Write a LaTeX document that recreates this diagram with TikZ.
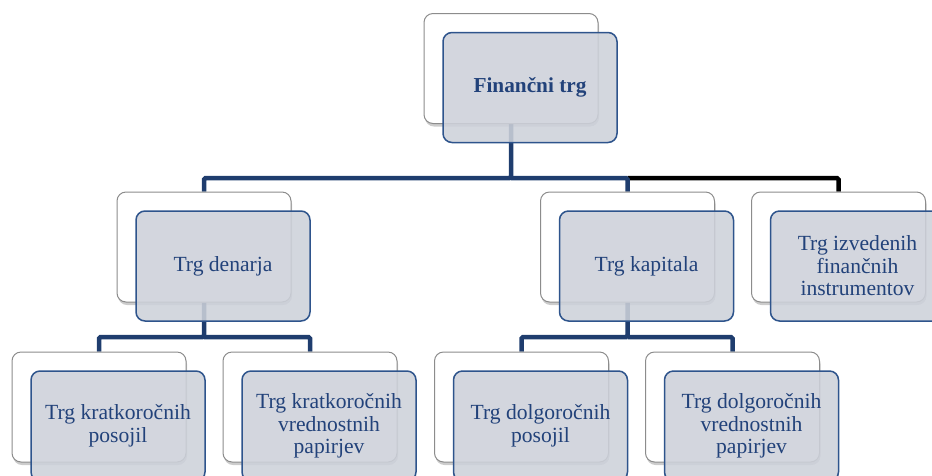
\documentclass[tikz,border=0pt]{standalone}
\usepackage{fontspec}
\setmainfont{Liberation Serif}
\newfontfamily\tnrfont{Liberation Serif}
\usetikzlibrary{shadows}
\definecolor{navy}{RGB}{31,61,110}
\definecolor{fborder}{RGB}{46,84,140}
\definecolor{ftext}{RGB}{34,66,122}
\definecolor{ffill}{RGB}{205,209,218}
\definecolor{bborder}{RGB}{140,140,140}
\pgfdeclarelayer{bg}
\pgfsetlayers{bg,main}
\begin{document}
\begin{tikzpicture}[x=1pt,y=-1pt,
  backbox/.style={draw=bborder, line width=1pt, fill=white, rounded corners=9pt,
    minimum width=174pt, minimum height=110pt, inner sep=0pt,
    drop shadow={shadow xshift=1pt, shadow yshift=-3pt, opacity=0.2, fill=black}},
  frontbox/.style={draw=fborder, line width=1.5pt, fill=ffill, fill opacity=0.88,
    text opacity=1, rounded corners=9pt, minimum width=174pt, minimum height=110pt,
    inner sep=0pt, align=center, text=ftext, font=\tnrfont\fontsize{21.6}{22.5}\selectfont},
  conn/.style={draw=navy, line width=4.5pt, rounded corners=1.5pt},
]
\useasboundingbox (0,0) rectangle (932,475);
\clip (0,0) rectangle (932,475);
\coordinate (barA) at (0,178);
\coordinate (barB) at (0,337);
% back boxes
\node[backbox] (b0) at (511,68.5) {};
\node[backbox] (b1) at (204,247) {};
\node[backbox] (b2) at (627.5,247) {};
\node[backbox] (b3) at (838.5,247) {};
\node[backbox] (c1) at (99,407) {};
\node[backbox] (c2) at (310,407) {};
\node[backbox] (c3) at (521.5,407) {};
\node[backbox] (c4) at (732.5,407) {};
% front boxes
\node[frontbox, font=\tnrfont\fontsize{21.3}{22.5}\selectfont\bfseries] (f0) at (530,87.5) {Finančni trg};
\node[frontbox] (f1) at (223,266) {Trg denarja};
\node[frontbox] (f2) at (646.5,266) {Trg kapitala};
\node[frontbox] (f3) at (857.5,266) {Trg izvedenih\\finančnih\\instrumentov};
\node[frontbox] (g1) at (118,426) {Trg kratkoročnih\\posojil};
\node[frontbox] (g2) at (329,426) {Trg kratkoročnih\\vrednostnih\\papirjev};
\node[frontbox] (g3) at (540.5,426) {Trg dolgoročnih\\posojil};
\node[frontbox] (g4) at (751.5,426) {Trg dolgoročnih\\vrednostnih\\papirjev};
% connectors
\begin{pgfonlayer}{bg}
\draw[conn, draw=black] (b2.north |- barA) -| (b3.north);
\draw[conn] (b0.south) -- (b0.south |- barA) -| (b1.north);
\draw[conn] (b0.south |- barA) -| (b2.north);
\draw[conn] (b1.south) -- (b1.south |- barB) -| (c1.north);
\draw[conn] (b1.south |- barB) -| (c2.north);
\draw[conn] (b2.south) -- (b2.south |- barB) -| (c3.north);
\draw[conn] (b2.south |- barB) -| (c4.north);
\end{pgfonlayer}
\end{tikzpicture}
\end{document}
